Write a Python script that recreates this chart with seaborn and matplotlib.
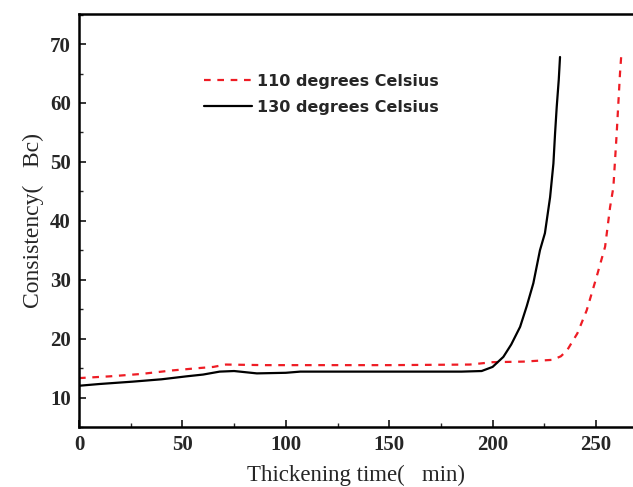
import numpy as np
import pandas as pd
import matplotlib
matplotlib.use("Agg")
import matplotlib.pyplot as plt
import seaborn as sns
from matplotlib.ticker import MultipleLocator

# Data
t_110 = [0, 15, 30, 45, 58, 65, 71, 90, 120, 150, 189, 200, 215, 229, 233, 236, 241, 245.5, 250.3, 254.4, 256.8, 258.4, 260, 261.6, 262.2]
c_110 = [13.3, 13.6, 14.0, 14.6, 15.0, 15.2, 15.6, 15.5, 15.5, 15.5, 15.6, 16.0, 16.1, 16.4, 17.0, 18.0, 20.9, 24.8, 30.5, 35.6, 42.3, 45.7, 54.8, 65.0, 68.0]
t_130 = [0, 10, 26, 40, 52, 60, 68, 75, 86, 100, 107, 130, 160, 185, 194.7, 200, 205.2, 209, 213.3, 216.5, 219.7, 222.9, 225.3, 227.8, 229.4, 230.2, 231, 232, 232.6]
c_130 = [12.0, 12.3, 12.7, 13.1, 13.6, 13.9, 14.4, 14.5, 14.1, 14.2, 14.4, 14.4, 14.4, 14.4, 14.5, 15.2, 16.9, 19.0, 22.0, 25.5, 29.4, 35.0, 37.9, 44.0, 49.7, 54.8, 59.3, 64.0, 67.8]
labels = ["110 degrees Celsius", "130 degrees Celsius"]
x_ticks = [0, 50, 100, 150, 200, 250]
y_ticks = [10, 20, 30, 40, 50, 60, 70]

df = pd.concat([
    pd.DataFrame({"time": t_110, "cons": c_110, "series": labels[0]}),
    pd.DataFrame({"time": t_130, "cons": c_130, "series": labels[1]}),
], ignore_index=True)

sns.set_theme(style="white")
plt.rcParams['font.family'] = ['DejaVu Sans']

fig = plt.figure(figsize=(6.33, 4.87), dpi=100)
ax = fig.add_axes([79/633, 1-427/487, 1-79/633, (427-14)/487])

sns.lineplot(data=df, x="time", y="cons", hue="series", style="series",
             palette={labels[0]: "#ee1c24", labels[1]: "black"},
             dashes={labels[0]: (3, 3), labels[1]: ""},
             sort=False, estimator=None, lw=1.6, ax=ax)

ax.set_xlim(0, (633-79)/2.068)
ax.set_ylim(5, 75.1)
ax.set_xticks(x_ticks)
ax.set_yticks(y_ticks)
ax.xaxis.set_minor_locator(MultipleLocator(25))
ax.yaxis.set_minor_locator(MultipleLocator(5))
ax.tick_params(which="major", direction="in", length=5, width=1.3, bottom=True, left=True, pad=6)
ax.tick_params(which="minor", direction="in", length=3, width=1.0, bottom=True, left=True)
for lab in ax.get_xticklabels() + ax.get_yticklabels():
    lab.set_family("Liberation Serif")
    lab.set_fontsize(15)
    lab.set_fontweight("bold")
for side in ["left", "bottom", "top"]:
    ax.spines[side].set_color("black")
    ax.spines[side].set_linewidth(1.8)
ax.spines["right"].set_visible(False)

ax.set_xlabel("Thickening time(   min)", family="Liberation Serif", fontsize=16.5, labelpad=7)
ax.set_ylabel("Consistency(   Bc)", family="Liberation Serif", fontsize=17, labelpad=4)

leg = ax.legend(loc="upper left", bbox_to_anchor=(0.2, 0.89), frameon=False,
                fontsize=11.5, handlelength=3.0, handletextpad=0.3, labelspacing=0.7)
for txt in leg.get_texts():
    txt.set_fontweight("bold")

fig.savefig("out.png", dpi=100)
